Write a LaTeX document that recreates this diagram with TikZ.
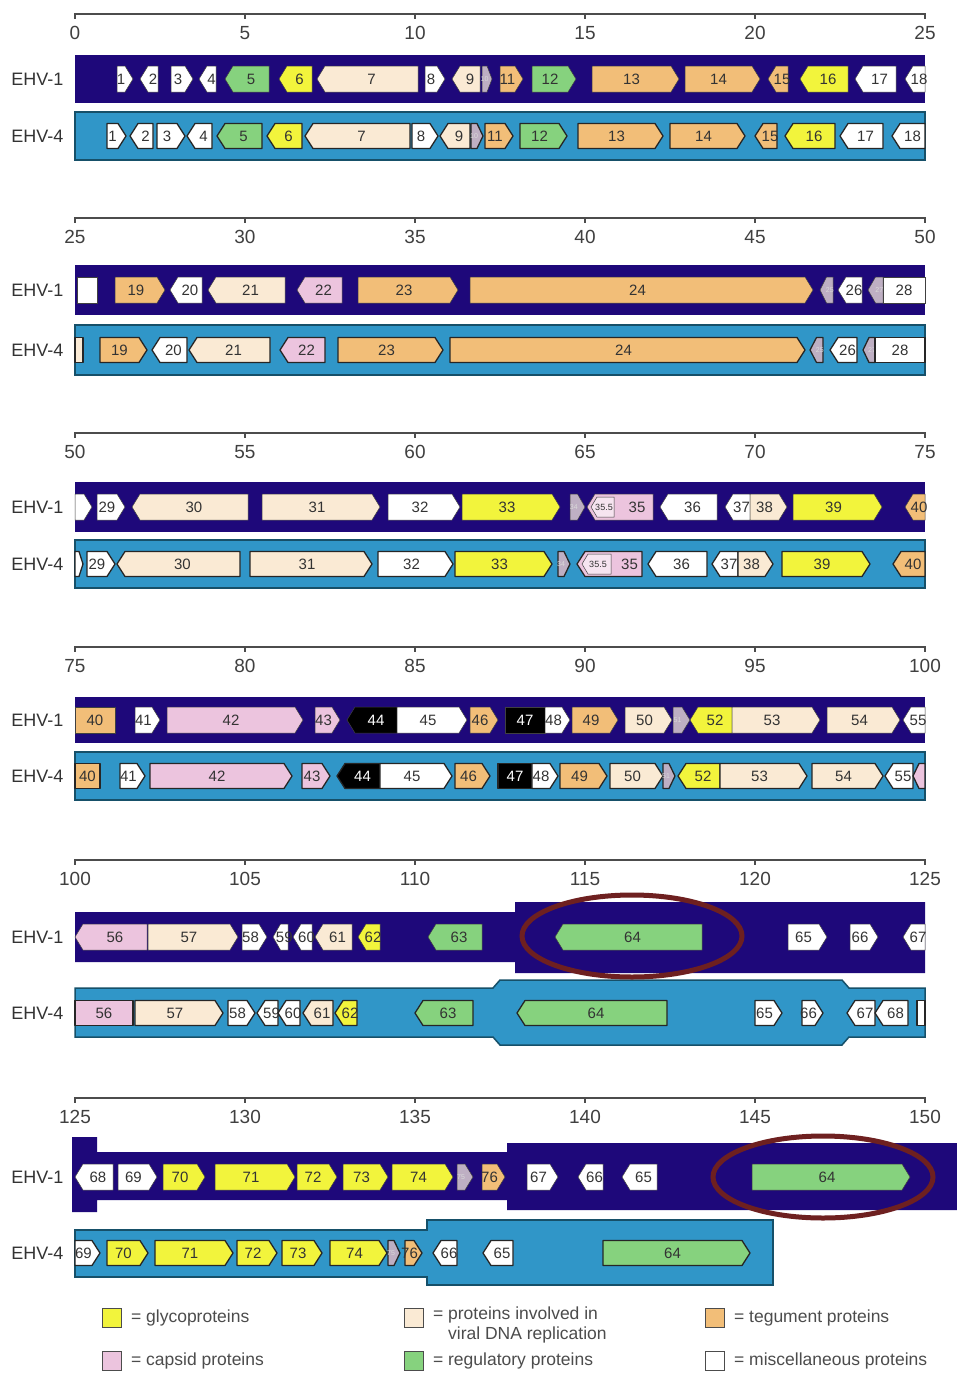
\documentclass[tikz,border=0pt]{standalone}
\usepackage{fontspec}
\setmainfont{Liberation Sans}
\usetikzlibrary{positioning}

\definecolor{ehvone}{RGB}{30,8,122}
\definecolor{ehvfour}{RGB}{48,150,200}
\definecolor{ehvfourline}{RGB}{22,80,105}
\definecolor{glyco}{RGB}{242,244,60}
\definecolor{capsid}{RGB}{236,196,222}
\definecolor{dnarep}{RGB}{250,234,212}
\definecolor{regul}{RGB}{134,210,126}
\definecolor{tegum}{RGB}{242,190,120}
\definecolor{tinyg}{RGB}{190,175,195}
\definecolor{ringred}{RGB}{110,32,32}

% track: y centre, half height, name prefix, outline style
\newcommand\track[4]{\def\trk{#1}\def\trh{#2}\def\trn{#3}\tikzset{genebox/.style={#4}}}
% gene: [label opts] start, end, r/l/n, fill style, label
\newcommand\gene[6][]{%
  \pgfmathsetmacro\gtip{min(8,(#3-#2)/2)}%
  \if r#4\relax
    \pgfmathsetmacro\gmid{(#2+#3-\gtip)/2}%
    \draw[genebox,#5] (#2,\trk-\trh) -- (#3-\gtip,\trk-\trh) -- (#3,\trk)
      -- (#3-\gtip,\trk+\trh) -- (#2,\trk+\trh) -- cycle;
  \else\if l#4\relax
    \pgfmathsetmacro\gmid{(#2+#3+\gtip)/2}%
    \draw[genebox,#5] (#3,\trk-\trh) -- (#2+\gtip,\trk-\trh) -- (#2,\trk)
      -- (#2+\gtip,\trk+\trh) -- (#3,\trk+\trh) -- cycle;
  \else
    \pgfmathsetmacro\gmid{(#2+#3)/2}%
    \draw[genebox,#5] (#2,\trk-\trh) rectangle (#3,\trk+\trh);
  \fi\fi
  \if\relax\detokenize{#6}\relax\else
    \node[genelbl,#1] (\trn-#6) at (\gmid,\trk) {#6};
  \fi}

\begin{document}
\begin{tikzpicture}[x=1pt, y=-1pt,
  onegene/.style={draw=black!75, line width=0.5pt},
  fourgene/.style={draw=black!85, line width=1.3pt, line join=round},
  genelbl/.style={font=\fontsize{15}{15}\selectfont, text=black!80, inner sep=0pt},
  tinylbl/.style={font=\fontsize{7}{7}\selectfont, text=white!85!black},
  gly/.style={fill=glyco}, cps/.style={fill=capsid}, dna/.style={fill=dnarep},
  reg/.style={fill=regul}, teg/.style={fill=tegum}, msc/.style={fill=white},
  blk/.style={fill=black}, tny/.style={fill=tinyg},
  onebar/.style={fill=ehvone},
  fourbar/.style={fill=ehvfour, draw=ehvfourline, line width=1.5pt},
  ruler/.style={draw=black!70, line width=1.4pt},
  kb/.style={font=\fontsize{19}{19}\selectfont, text=black!75},
  strain/.style={font=\fontsize{18}{18}\selectfont, text=black!80, anchor=east},
  ring/.style={draw=ringred, line width=5pt},
  swatch/.style={draw=black!70, line width=0.8pt, minimum size=19pt, inner sep=0pt},
  legtxt/.style={font=\fontsize{17.5}{19.5}\selectfont, text=black!70, align=left, inner sep=0pt},
]
\useasboundingbox[fill=white] (0,0) rectangle (957,1376);

% scale bars, 25 kb per row
\foreach \p/\R in {0/14,1/218,2/433,3/647,4/860,5/1098}{
  \draw[ruler] (75,\R) -- (925,\R);
  \foreach \i in {0,...,5}{
    \pgfmathtruncatemacro\kbv{25*\p+5*\i}
    \draw[ruler] (75+170*\i,\R-1) -- (75+170*\i,\R+5);
    \node[kb] (t\p-\i) at (75+170*\i,\R+19) {\kbv};
  }
}

% genome bars
\fill[onebar] (75,55) rectangle (925,103);
\draw[fourbar] (75,112) rectangle (925,160);
\fill[onebar] (75,265) rectangle (925,315);
\draw[fourbar] (75,325) rectangle (925,375);
\fill[onebar] (75,482) rectangle (925,532);
\draw[fourbar] (75,540) rectangle (925,588);
\fill[onebar] (75,697) rectangle (925,743);
\draw[fourbar] (75,752) rectangle (925,800);
\fill[onebar] (75,912) -- (515,912) -- (515,902) -- (925,902) -- (925,973)
  -- (515,973) -- (515,962) -- (75,962) -- cycle;
\draw[fourbar] (75,988) -- (493,988) -- (500,980) -- (842,980) -- (849,988)
  -- (925,988) -- (925,1037) -- (849,1037) -- (842,1045) -- (500,1045)
  -- (493,1037) -- (75,1037) -- cycle;
\fill[onebar] (72,1137) -- (97,1137) -- (97,1152) -- (507,1152) -- (507,1143)
  -- (957,1143) -- (957,1210) -- (507,1210) -- (507,1200) -- (97,1200)
  -- (97,1212) -- (72,1212) -- cycle;
\draw[fourbar] (75,1230) -- (427,1230) -- (427,1220) -- (773,1220) -- (773,1285)
  -- (427,1285) -- (427,1277) -- (75,1277) -- cycle;

\foreach \y/\n/\s in {79/s1a/1,136/s1b/4,290/s2a/1,350/s2b/4,507/s3a/1,564/s3b/4,
                      720/s4a/1,776/s4b/4,937/s5a/1,1013/s5b/4,1177/s6a/1,1253/s6b/4}
  \node[strain] (\n) at (67,\y) {EHV-\s};

% 0-25 kb
\track{79}{13}{a1}{onegene}
\gene{117}{133}{r}{msc}{1}
\gene{140}{158}{l}{msc}{2}
\gene{171}{193}{r}{msc}{3}
\gene{199}{216}{l}{msc}{4}
\gene{225}{269}{l}{reg}{5}
\gene{279}{312}{l}{gly}{6}
\gene{317}{418}{l}{dna}{7}
\gene{425}{445}{r}{msc}{8}
\gene{452}{480}{l}{dna}{9}
\gene[tinylbl]{482}{492}{r}{tny}{10}
\gene{500}{523}{r}{teg}{11}
\gene{532}{576}{r}{reg}{12}
\gene{592}{679}{r}{teg}{13}
\gene{685}{760}{r}{teg}{14}
\gene{768}{788}{l}{teg}{15}
\gene{800}{848}{l}{gly}{16}
\gene{855}{896}{l}{msc}{17}
\gene{905}{925}{l}{msc}{18}

\track{136}{12.5}{b1}{fourgene}
\gene{107}{126}{r}{msc}{1}
\gene{130}{153}{l}{msc}{2}
\gene{157}{185}{r}{msc}{3}
\gene{187}{212}{l}{msc}{4}
\gene{217}{262}{l}{reg}{5}
\gene{267}{302}{l}{gly}{6}
\gene{305}{410}{l}{dna}{7}
\gene{412}{438}{r}{msc}{8}
\gene{440}{470}{l}{dna}{9}
\gene[tinylbl]{471}{483}{r}{tny}{10}
\gene{485}{513}{r}{teg}{11}
\gene{520}{567}{r}{reg}{12}
\gene{578}{663}{r}{teg}{13}
\gene{670}{745}{r}{teg}{14}
\gene{755}{777}{l}{teg}{15}
\gene{785}{835}{l}{gly}{16}
\gene{840}{883}{l}{msc}{17}
\gene{892}{925}{l}{msc}{18}

% 25-50 kb
\track{290}{13}{a2}{onegene}
\gene{77}{97}{n}{msc}{}
\gene{115}{165}{r}{teg}{19}
\gene{170}{202}{l}{msc}{20}
\gene{208}{285}{l}{dna}{21}
\gene{297}{342}{l}{cps}{22}
\gene{358}{458}{r}{teg}{23}
\gene{470}{813}{r}{teg}{24}
\gene[tinylbl]{820}{833}{l}{tny}{25}
\gene{838}{862}{l}{msc}{26}
\gene[tinylbl]{868}{883}{l}{tny}{27}
\gene{883}{925}{n}{msc}{28}

\track{350}{12.5}{b2}{fourgene}
\gene{75}{83}{n}{dna}{}
\gene{100}{147}{r}{teg}{19}
\gene{152}{187}{l}{msc}{20}
\gene{189}{270}{l}{dna}{21}
\gene{280}{325}{l}{cps}{22}
\gene{338}{443}{r}{teg}{23}
\gene{450}{805}{r}{teg}{24}
\gene[tinylbl]{810}{823}{l}{tny}{25}
\gene{830}{857}{l}{msc}{26}
\gene[tinylbl]{863}{875}{l}{tny}{27}
\gene{875}{925}{n}{msc}{28}

% 50-75 kb
\track{507}{13}{a3}{onegene}
\gene{75}{92}{r}{msc}{}
\gene{97}{125}{r}{msc}{29}
\gene{132}{248}{l}{dna}{30}
\gene{262}{380}{r}{dna}{31}
\gene{388}{460}{r}{msc}{32}
\gene{462}{560}{r}{gly}{33}
\gene[tinylbl]{570}{585}{r}{tny}{34}
\gene[xshift=13pt]{587}{653}{l}{cps}{35}
\draw[onegene, fill=white!55!capsid] (614,497) -- (597,497) -- (591,507) -- (597,517) -- (614,517) -- cycle;
\node[genelbl, font=\fontsize{9}{9}\selectfont] (a3-355) at (604,507) {35.5};
\gene{660}{717}{l}{msc}{36}
\gene{725}{750}{l}{msc}{37}
\gene{750}{787}{r}{dna}{38}
\gene{793}{882}{r}{gly}{39}
\gene{905}{925}{l}{teg}{40}

\track{564}{12.5}{b3}{fourgene}
\gene{75}{83}{r}{msc}{}
\gene{87}{115}{r}{msc}{29}
\gene{117}{240}{l}{dna}{30}
\gene{250}{372}{r}{dna}{31}
\gene{378}{453}{r}{msc}{32}
\gene{455}{552}{r}{gly}{33}
\gene[tinylbl]{558}{570}{r}{tny}{34}
\gene[xshift=16pt]{577}{642}{l}{cps}{35}
\draw[onegene, fill=white!55!capsid] (611,554) -- (588,554) -- (582,564) -- (588,574) -- (611,574) -- cycle;
\node[genelbl, font=\fontsize{9}{9}\selectfont] (b3-355) at (598,564) {35.5};
\gene{648}{707}{l}{msc}{36}
\gene{712}{738}{l}{msc}{37}
\gene{738}{773}{r}{dna}{38}
\gene{782}{870}{r}{gly}{39}
\gene{893}{925}{l}{teg}{40}

% 75-100 kb
\track{720}{13}{a4}{onegene}
\gene{75}{115}{n}{teg}{40}
\gene{135}{160}{r}{msc}{41}
\gene{167}{303}{r}{cps}{42}
\gene{315}{340}{r}{cps}{43}
\gene[text=white]{347}{397}{l}{blk}{44}
\gene{397}{467}{r}{msc}{45}
\gene{470}{498}{r}{teg}{46}
\gene[text=white]{505}{545}{n}{blk}{47}
\gene{545}{570}{r}{msc}{48}
\gene{572}{618}{r}{teg}{49}
\gene{625}{672}{r}{dna}{50}
\gene[tinylbl]{673}{690}{r}{tny}{51}
\gene{690}{732}{l}{gly}{52}
\gene{732}{820}{r}{dna}{53}
\gene{827}{900}{r}{dna}{54}
\gene{903}{925}{l}{msc}{55}

\track{776}{12.5}{b4}{fourgene}
\gene{75}{100}{n}{teg}{40}
\gene{120}{145}{r}{msc}{41}
\gene{150}{292}{r}{cps}{42}
\gene{302}{330}{r}{cps}{43}
\gene[text=white]{337}{380}{l}{blk}{44}
\gene{380}{452}{r}{msc}{45}
\gene{455}{490}{r}{teg}{46}
\gene[text=white]{498}{532}{n}{blk}{47}
\gene{532}{558}{r}{msc}{48}
\gene{560}{607}{r}{teg}{49}
\gene{610}{663}{r}{dna}{50}
\gene[tinylbl]{663}{675}{r}{tny}{51}
\gene{678}{720}{l}{gly}{52}
\gene{720}{807}{r}{dna}{53}
\gene{812}{883}{r}{dna}{54}
\gene{885}{913}{l}{msc}{55}
\gene{913}{925}{l}{cps}{}

% 100-125 kb
\track{937}{13}{a5}{onegene}
\gene{75}{147}{l}{cps}{56}
\gene{148}{238}{r}{dna}{57}
\gene{242}{267}{r}{msc}{58}
\gene{273}{288}{l}{msc}{59}
\gene{293}{312}{l}{msc}{60}
\gene{315}{352}{l}{dna}{61}
\gene{358}{380}{l}{gly}{62}
\gene{428}{482}{l}{reg}{63}
\gene{555}{702}{l}{reg}{64}
\gene{788}{827}{r}{msc}{65}
\gene{850}{878}{r}{msc}{66}
\gene{903}{925}{l}{msc}{67}

\track{1013}{12.5}{b5}{fourgene}
\gene{75}{133}{n}{cps}{56}
\gene{135}{223}{r}{dna}{57}
\gene{228}{255}{r}{msc}{58}
\gene{257}{278}{l}{msc}{59}
\gene{278}{300}{l}{msc}{60}
\gene{303}{333}{l}{dna}{61}
\gene{335}{357}{l}{gly}{62}
\gene{415}{473}{l}{reg}{63}
\gene{517}{667}{l}{reg}{64}
\gene{755}{782}{r}{msc}{65}
\gene{802}{823}{r}{msc}{66}
\gene{847}{875}{l}{msc}{67}
\gene{875}{908}{l}{msc}{68}
\gene{917}{925}{n}{msc}{}

% 125-150 kb
\track{1177}{13}{a6}{onegene}
\gene{75}{113}{l}{msc}{68}
\gene{118}{157}{r}{msc}{69}
\gene{163}{205}{r}{gly}{70}
\gene{215}{295}{r}{gly}{71}
\gene{297}{337}{r}{gly}{72}
\gene{343}{388}{r}{gly}{73}
\gene{392}{453}{r}{gly}{74}
\gene[tinylbl]{457}{473}{r}{tny}{75}
\gene{482}{505}{r}{teg}{76}
\gene{527}{558}{r}{msc}{67}
\gene{578}{603}{l}{msc}{66}
\gene{622}{657}{l}{msc}{65}
\gene{752}{910}{r}{reg}{64}

\track{1253}{12.5}{b6}{fourgene}
\gene{75}{100}{r}{msc}{69}
\gene{107}{148}{r}{gly}{70}
\gene{155}{233}{r}{gly}{71}
\gene{237}{277}{r}{gly}{72}
\gene{282}{322}{r}{gly}{73}
\gene{330}{387}{r}{gly}{74}
\gene[tinylbl]{388}{400}{r}{tny}{75}
\gene{405}{422}{r}{teg}{76}
\gene{433}{457}{l}{msc}{66}
\gene{483}{513}{l}{msc}{65}
\gene{603}{750}{r}{reg}{64}

% ORF64 rings
\draw[ring] (632,936) ellipse [x radius=110pt, y radius=41pt];
\draw[ring] (823,1177) ellipse [x radius=110pt, y radius=41pt];

% key
\node[swatch, fill=glyco]  (k1) at (112,1318) {};
\node[swatch, fill=capsid] (k2) at (112,1361) {};
\node[swatch, fill=dnarep] (k3) at (414,1318) {};
\node[swatch, fill=regul]  (k4) at (414,1361) {};
\node[swatch, fill=tegum]  (k5) at (715,1318) {};
\node[swatch, fill=white]  (k6) at (715,1361) {};
\node[legtxt, right=9pt of k1] (k1t) {= glycoproteins};
\node[legtxt, right=9pt of k2] (k2t) {= capsid proteins};
\node[legtxt, anchor=north west] (k3t) at ([xshift=9pt,yshift=1pt]k3.north east)
  {= proteins involved in\\\phantom{= }viral DNA replication};
\node[legtxt, right=9pt of k4] (k4t) {= regulatory proteins};
\node[legtxt, right=9pt of k5] (k5t) {= tegument proteins};
\node[legtxt, right=9pt of k6] (k6t) {= miscellaneous proteins};
\end{tikzpicture}
\end{document}
